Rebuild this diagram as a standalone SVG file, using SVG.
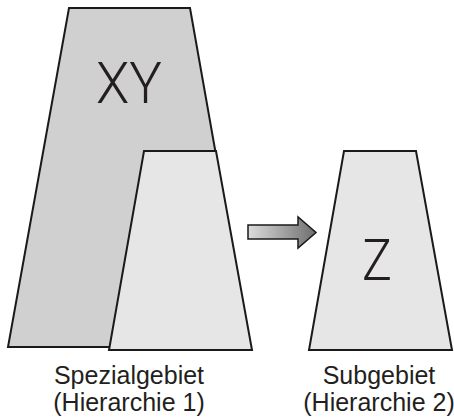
<svg xmlns="http://www.w3.org/2000/svg" width="454" height="418" viewBox="0 0 454 418">
<defs>
<style>
.shape{stroke:#1a1a1a;stroke-width:2;stroke-linejoin:miter}
.dark{fill:#d0d0d0}
.light{fill:#e6e6e6}
.big{font-family:Roboto,"Liberation Sans",Arial,sans-serif;font-weight:300;font-size:58px;fill:#231f20}
.lbl{font-family:"Liberation Sans",Arial,sans-serif;font-size:25px;fill:#231f20;text-anchor:middle}
</style>
<linearGradient id="ag" x1="0" y1="0" x2="1" y2="0">
<stop offset="0" stop-color="#dcdcdc"/>
<stop offset="1" stop-color="#6e6e6e"/>
</linearGradient>
</defs>
<rect width="454" height="418" fill="#ffffff"/>
<g id="spezialgebiet">
<polygon class="shape dark" points="69,8 190,8 250,347 8,347"/>
<text class="big" x="96" y="103" textLength="66" lengthAdjust="spacingAndGlyphs">XY</text>
</g>
<g id="spezial-inner">
<polygon class="shape light" points="144,151 216,151 252,350 109,350"/>
<text class="lbl" x="129" y="384">Spezialgebiet</text>
<text class="lbl" x="129" y="411">(Hierarchie 1)</text>
</g>
<g id="connectors">
<polygon points="248,225 298,225 298,217 316,232.5 298,248 298,239 248,239" fill="url(#ag)" stroke="#1a1a1a" stroke-width="1.5"/>
</g>
<g id="subgebiet">
<polygon class="shape light" points="344,151 416,151 452,350 309,350"/>
<text class="big" x="362" y="280" textLength="30" lengthAdjust="spacingAndGlyphs">Z</text>
<text class="lbl" x="379" y="384">Subgebiet</text>
<text class="lbl" x="379" y="411">(Hierarchie 2)</text>
</g>
</svg>
